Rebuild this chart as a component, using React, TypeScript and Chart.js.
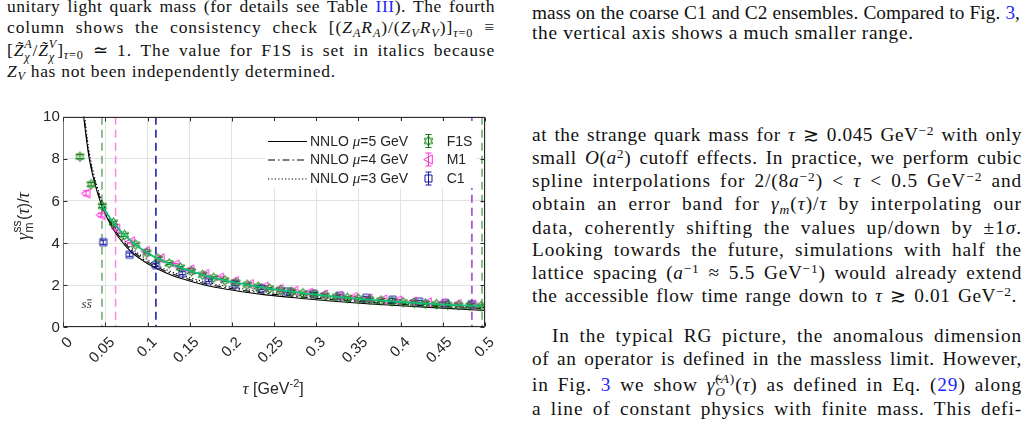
import React, { useEffect, useLayoutEffect, useRef } from "react";
import { Chart, registerables } from "chart.js";
Chart.register(...registerables);

// ---------------- data ----------------
const xTickValues = [0, 0.05, 0.1, 0.15, 0.2, 0.25, 0.3, 0.35, 0.4, 0.45, 0.5];
const xTickLabels = ["0", "0.05", "0.1", "0.15", "0.2", "0.25", "0.3", "0.35", "0.4", "0.45", "0.5"];
const yTickValues = [0, 2, 4, 6, 8, 10];
const yTickLabels = ["0", "2", "4", "6", "8", "10"];

const f1sTau = [0.0198, 0.033, 0.0462, 0.0594, 0.0726, 0.0859, 0.0991, 0.1123, 0.1255, 0.1387, 0.1519, 0.1651, 0.1783, 0.1915, 0.2047, 0.218, 0.2312, 0.2444, 0.2576, 0.2708, 0.284, 0.2972, 0.3104, 0.3236, 0.3368, 0.3501, 0.3633, 0.3765, 0.3897, 0.4029, 0.4161, 0.4293, 0.4425, 0.4557, 0.4689, 0.4822, 0.4954];
const f1sVal = [8.1, 6.79, 5.76, 4.97, 4.38, 3.92, 3.54, 3.26, 3.03, 2.84, 2.66, 2.49, 2.35, 2.23, 2.12, 2.02, 1.93, 1.84, 1.76, 1.69, 1.62, 1.56, 1.5, 1.45, 1.4, 1.35, 1.31, 1.27, 1.23, 1.19, 1.16, 1.13, 1.1, 1.07, 1.05, 1.03, 1.01];
const f1sErr = [0.1, 0.08, 0.07, 0.06, 0.06, 0.05, 0.05, 0.05, 0.05, 0.05, 0.05, 0.05, 0.05, 0.05, 0.05, 0.05, 0.05, 0.05, 0.05, 0.05, 0.05, 0.05, 0.05, 0.05, 0.05, 0.05, 0.05, 0.05, 0.05, 0.05, 0.05, 0.05, 0.05, 0.05, 0.05, 0.05, 0.05];

const m1Tau = [0.027, 0.0446, 0.0622, 0.0798, 0.0974, 0.115, 0.1326, 0.1502, 0.1678, 0.1854, 0.203, 0.2206, 0.2382, 0.2558, 0.2734, 0.291, 0.3086, 0.3262, 0.3438, 0.3614, 0.379, 0.3966, 0.4142, 0.4318, 0.4494, 0.467, 0.4846];
const m1Val = [6.36, 5.33, 4.7, 4.08, 3.62, 3.27, 2.98, 2.74, 2.53, 2.35, 2.19, 2.05, 1.93, 1.82, 1.73, 1.64, 1.56, 1.49, 1.43, 1.37, 1.32, 1.27, 1.22, 1.18, 1.14, 1.1, 1.07];
const m1Err = [0.12, 0.09, 0.07, 0.06, 0.06, 0.06, 0.05, 0.05, 0.05, 0.05, 0.05, 0.05, 0.05, 0.05, 0.05, 0.05, 0.05, 0.05, 0.05, 0.05, 0.05, 0.05, 0.05, 0.05, 0.05, 0.05, 0.05];

const c1Tau = [0.0474, 0.0786, 0.1098, 0.141, 0.1722, 0.2034, 0.2346, 0.2658, 0.297, 0.3282, 0.3594, 0.3906, 0.4218, 0.453, 0.4842];
const c1Val = [4.04, 3.45, 2.95, 2.57, 2.24, 2.03, 1.85, 1.7, 1.59, 1.49, 1.4, 1.31, 1.22, 1.15, 1.09];
const c1Err = [0.1, 0.08, 0.07, 0.07, 0.06, 0.06, 0.06, 0.06, 0.06, 0.06, 0.06, 0.06, 0.06, 0.06, 0.06];

const nnloTau = [0.023, 0.03, 0.035, 0.04, 0.0458, 0.055, 0.065, 0.08, 0.095, 0.11, 0.13, 0.156, 0.18, 0.21, 0.24, 0.28, 0.32, 0.36, 0.4, 0.45, 0.5];
const nnloMu5 = [10.35, 8.2, 7.2, 6.45, 5.76, 4.95, 4.3, 3.6, 3.15, 2.8, 2.45, 2.13, 1.9, 1.7, 1.54, 1.38, 1.24, 1.12, 1.02, 0.91, 0.8];
const nnloMu4 = [10.5, 8.3, 7.3, 6.55, 5.85, 5.05, 4.4, 3.7, 3.23, 2.88, 2.53, 2.2, 1.97, 1.77, 1.61, 1.45, 1.31, 1.19, 1.09, 0.98, 0.87];
const nnloMu3 = [10.8, 8.5, 7.45, 6.7, 6.0, 5.17, 4.52, 3.8, 3.33, 2.96, 2.61, 2.28, 2.05, 1.84, 1.68, 1.52, 1.38, 1.26, 1.16, 1.05, 0.94];

// spline band through F1S between the cuts
const splineTau = [0.0458, 0.0594, 0.0726, 0.0859, 0.0991, 0.1123, 0.1255, 0.1387, 0.1519, 0.1651, 0.1783, 0.1915, 0.2047, 0.218, 0.2312, 0.2444, 0.2576, 0.2708, 0.284, 0.2972, 0.3104, 0.3236, 0.3368, 0.3501, 0.3633, 0.3765, 0.3897, 0.4029, 0.4161, 0.4293, 0.4425, 0.4557, 0.4689, 0.4822, 0.4965];
const splineVal = [5.78, 4.97, 4.38, 3.92, 3.54, 3.26, 3.03, 2.84, 2.66, 2.49, 2.35, 2.23, 2.12, 2.02, 1.93, 1.84, 1.76, 1.69, 1.62, 1.56, 1.5, 1.45, 1.4, 1.35, 1.31, 1.27, 1.23, 1.19, 1.16, 1.13, 1.1, 1.07, 1.05, 1.03, 1.01];

// fit-window cuts (tau)
const f1sCuts = [0.0458, 0.4965];
const m1Cuts = [0.062, 0.4848];
const c1Cuts = [0.1098, 0.4842];

const legendLines = ["5", "4", "3"];
const legendSeries = ["F1S", "M1", "C1"];

// --------------- styles ---------------
const F1S_COLOR = "#0a7a0a";
const M1_COLOR = "#ff2fd8";
const C1_COLOR = "#1414a8";
const SPLINE_COLOR = "#12bf74";
const SANS = '"Liberation Sans", Arial, sans-serif';
const SERIF = '"Liberation Serif", "Times New Roman", serif';
const LINK = "#2424ff";

function makeMarker(kind: string, color: string): HTMLCanvasElement {
  const c = document.createElement("canvas");
  const s = 13;
  c.width = s;
  c.height = s;
  const g = c.getContext("2d")!;
  g.strokeStyle = color;
  g.lineWidth = 1;
  const cx = s / 2, cy = s / 2;
  g.beginPath();
  if (kind === "hex") {
    const R = 4.9, r = R / Math.sqrt(3);
    for (let i = 0; i < 12; i++) {
      const a = -Math.PI / 2 + (i * Math.PI) / 6;
      const rr = i % 2 === 0 ? R : r;
      const px = cx + rr * Math.cos(a), py = cy + rr * Math.sin(a);
      if (i === 0) g.moveTo(px, py); else g.lineTo(px, py);
    }
    g.closePath();
    g.fillStyle = "rgba(0,110,0,0.12)";
    g.fill();
  } else if (kind === "tri") {
    g.moveTo(cx - 4.8, cy);
    g.lineTo(cx + 3.8, cy - 4.6);
    g.lineTo(cx + 3.8, cy + 4.6);
    g.closePath();
  } else {
    g.rect(cx - 3.5, cy - 3.5, 7, 7);
  }
  g.stroke();
  return c;
}

function ChartBox() {
  const ref = useRef<HTMLCanvasElement>(null);
  useEffect(() => {
    const canvas = ref.current!;
    const hexImg = makeMarker("hex", F1S_COLOR);
    const triImg = makeMarker("tri", M1_COLOR);
    const sqImg = makeMarker("sq", C1_COLOR);

    const pts = (xs: number[], ys: number[]) => xs.map((x, i) => ({ x, y: ys[i] }));

    const errSets = [
      { t: c1Tau, v: c1Val, e: c1Err, color: C1_COLOR },
      { t: m1Tau, v: m1Val, e: m1Err, color: M1_COLOR },
      { t: f1sTau, v: f1sVal, e: f1sErr, color: F1S_COLOR },
    ];

    const decor = {
      id: "decor",
      beforeDatasetsDraw(chart: any) {
        const { ctx, chartArea: a, scales } = chart;
        const xs = scales.x, ys = scales.y;
        ctx.save();
        ctx.beginPath();
        ctx.rect(a.left, a.top, a.right - a.left, a.bottom - a.top);
        ctx.clip();
        const cuts = [
          { c: f1sCuts, colors: ["rgba(40,130,40,0.7)", "rgba(40,130,40,0.7)"] },
          { c: m1Cuts, colors: ["rgba(255,110,225,0.85)", "rgba(255,110,225,0.85)"] },
          { c: c1Cuts, colors: ["#1010a0", "rgba(30,30,170,0.5)"] },
        ];
        ctx.lineWidth = 1.5;
        ctx.setLineDash([8, 5]);
        cuts.forEach((cs) => {
          cs.c.forEach((t, k) => {
            ctx.strokeStyle = cs.colors[k];
            const px = xs.getPixelForValue(t);
            ctx.beginPath();
            ctx.moveTo(px, a.top);
            ctx.lineTo(px, a.bottom);
            ctx.stroke();
          });
        });
        ctx.restore();
        ctx.save();
        ctx.setLineDash([]);
        ctx.lineWidth = 1;
        errSets.forEach((s) => {
          ctx.strokeStyle = s.color;
          s.t.forEach((t, i) => {
            const px = xs.getPixelForValue(t);
            const y1 = ys.getPixelForValue(s.v[i] + s.e[i]);
            const y2 = ys.getPixelForValue(s.v[i] - s.e[i]);
            ctx.beginPath();
            ctx.moveTo(px, y1);
            ctx.lineTo(px, y2);
            ctx.moveTo(px - 3, y1);
            ctx.lineTo(px + 3, y1);
            ctx.moveTo(px - 3, y2);
            ctx.lineTo(px + 3, y2);
            ctx.stroke();
          });
        });
        ctx.restore();
      },
      afterDraw(chart: any) {
        const { ctx, chartArea: a, scales } = chart;
        const xs = scales.x, ys = scales.y;
        const L = Math.round(a.left) + 0.5, R = Math.round(a.right) - 0.5;
        const T = Math.round(a.top) + 0.5, B = Math.round(a.bottom) - 0.5;
        ctx.save();
        ctx.setLineDash([]);
        ctx.lineWidth = 1;
        ctx.strokeStyle = "#2b2b2b";
        ctx.beginPath();
        ctx.moveTo(L, B); ctx.lineTo(R, B); ctx.lineTo(R, T); ctx.lineTo(L, T);
        ctx.stroke();
        ctx.strokeStyle = "#7a7a7a";
        ctx.beginPath();
        ctx.moveTo(L, T); ctx.lineTo(L, B);
        ctx.stroke();
        ctx.strokeStyle = "#2b2b2b";
        ctx.beginPath();
        xTickValues.forEach((v) => {
          const px = Math.round(xs.getPixelForValue(v)) + 0.5;
          ctx.moveTo(px, B); ctx.lineTo(px, B - 4);
          ctx.moveTo(px, T); ctx.lineTo(px, T + 4);
        });
        yTickValues.forEach((v) => {
          const py = Math.round(ys.getPixelForValue(v)) + 0.5;
          ctx.moveTo(L, py); ctx.lineTo(L + 4, py);
          ctx.moveTo(R, py); ctx.lineTo(R - 4, py);
        });
        ctx.stroke();
        ctx.fillStyle = "#262626";
        ctx.font = `15px ${SANS}`;
        ctx.textAlign = "right";
        ctx.textBaseline = "middle";
        yTickValues.forEach((v, i) => {
          ctx.fillText(yTickLabels[i], a.left - 3.5, ys.getPixelForValue(v) + 0.5);
        });
        xTickValues.forEach((v, i) => {
          const px = xs.getPixelForValue(v);
          ctx.save();
          ctx.translate(px + 7, a.bottom + 12.7);
          ctx.rotate(-Math.PI / 4);
          ctx.fillText(xTickLabels[i], 0, 0);
          ctx.restore();
        });
        ctx.textBaseline = "alphabetic";
        ctx.textAlign = "left";
        {
          const parts = [
            { t: "\u03c4", f: `italic 17px ${SERIF}`, dy: 0 },
            { t: " [GeV", f: `16px ${SANS}`, dy: 0 },
            { t: "-2", f: `11px ${SANS}`, dy: -7 },
            { t: "]", f: `16px ${SANS}`, dy: 0 },
          ];
          let w = 0;
          parts.forEach((p) => { ctx.font = p.f; w += ctx.measureText(p.t).width; });
          let x = (a.left + a.right) / 2 - w / 2 - 1;
          const base = a.bottom + 67;
          parts.forEach((p) => {
            ctx.font = p.f;
            ctx.fillText(p.t, x, base + p.dy);
            x += ctx.measureText(p.t).width;
          });
        }
        {
          ctx.save();
          ctx.translate(29, 116);
          ctx.rotate(-Math.PI / 2);
          const gF = `italic 18px ${SERIF}`;
          const sF = `12px ${SANS}`;
          const nF = `16px ${SANS}`;
          ctx.font = gF; const wg = ctx.measureText("\u03b3").width;
          ctx.font = sF; const wss = ctx.measureText("ss").width; const wm = ctx.measureText("m").width;
          const ws = Math.max(wss, wm) + 1;
          ctx.font = nF; const wp = ctx.measureText("(").width; const wpc = ctx.measureText(")/").width;
          ctx.font = gF; const wt = ctx.measureText("\u03c4").width;
          const total = wg + ws + wp + wt + wpc + wt;
          let x = -total / 2;
          ctx.font = gF; ctx.fillText("\u03b3", x, 0); x += wg;
          ctx.font = sF; ctx.fillText("ss", x + 0.5, -8); ctx.fillText("m", x + 0.5, 4); x += ws;
          ctx.font = nF; ctx.fillText("(", x, 0); x += wp;
          ctx.font = gF; ctx.fillText("\u03c4", x, 0); x += wt;
          ctx.font = nF; ctx.fillText(")/", x, 0); x += wpc;
          ctx.font = gF; ctx.fillText("\u03c4", x, 0);
          ctx.restore();
        }
        {
          ctx.font = `italic 13px ${SERIF}`;
          ctx.fillStyle = "#333";
          const cx = xs.getPixelForValue(0.0277), cy = ys.getPixelForValue(0.9);
          const w1 = ctx.measureText("s").width;
          ctx.fillText("ss", cx - w1, cy);
          ctx.strokeStyle = "#333";
          ctx.beginPath();
          ctx.moveTo(cx + 0.5, cy - 8.5);
          ctx.lineTo(cx + w1, cy - 8.5);
          ctx.stroke();
        }
        {
          ctx.fillStyle = "#ffffff";
          ctx.fillRect(265, 21, 211, 67);
          const rows = [41, 59.5, 78.5];
          const dashes = [[], [7, 3, 1.5, 3], [1.2, 2.2]];
          const imgs = [hexImg, triImg, sqImg];
          const cols = [F1S_COLOR, M1_COLOR, C1_COLOR];
          rows.forEach((y, i) => {
            ctx.strokeStyle = "#000";
            ctx.lineWidth = 1.1;
            ctx.setLineDash(dashes[i]);
            ctx.beginPath();
            ctx.moveTo(268, y + 0.5);
            ctx.lineTo(307, y + 0.5);
            ctx.stroke();
            ctx.setLineDash([]);
            ctx.fillStyle = "#262626";
            ctx.textBaseline = "middle";
            let x = 310;
            ctx.font = `14px ${SANS}`;
            ctx.fillText("NNLO ", x, y + 1); x += ctx.measureText("NNLO ").width;
            ctx.font = `italic 15px ${SERIF}`;
            ctx.fillText("\u03bc", x, y + 1); x += ctx.measureText("\u03bc").width;
            ctx.font = `14px ${SANS}`;
            ctx.fillText(`=${legendLines[i]} GeV`, x, y + 1);
            const mx = 428.5;
            ctx.strokeStyle = cols[i];
            ctx.lineWidth = 1;
            ctx.beginPath();
            ctx.moveTo(mx, y - 6.5); ctx.lineTo(mx, y + 6.5);
            ctx.moveTo(mx - 3, y - 6.5); ctx.lineTo(mx + 3, y - 6.5);
            ctx.moveTo(mx - 3, y + 6.5); ctx.lineTo(mx + 3, y + 6.5);
            ctx.stroke();
            ctx.drawImage(imgs[i], mx - imgs[i].width / 2, y - imgs[i].height / 2);
            ctx.font = `14px ${SANS}`;
            ctx.fillStyle = "#262626";
            ctx.fillText(legendSeries[i], 446.7, y + 1);
          });
          ctx.textBaseline = "alphabetic";
        }
        ctx.restore();
      },
    };

    const chart = new Chart(canvas, {
      type: "line",
      data: {
        datasets: [
          { label: "spline", data: pts(splineTau, splineVal), borderColor: SPLINE_COLOR, borderWidth: 1.8, pointRadius: 0, cubicInterpolationMode: "monotone", fill: false, order: 1 } as any,
          { label: "F1S", data: pts(f1sTau, f1sVal), showLine: false, pointStyle: hexImg, pointRadius: 5, order: 2 },
          { label: "M1", data: pts(m1Tau, m1Val), showLine: false, pointStyle: triImg, pointRadius: 5, order: 3 },
          { label: "C1", data: pts(c1Tau, c1Val), showLine: false, pointStyle: sqImg, pointRadius: 5, order: 4 },
          { label: "mu5", data: pts(nnloTau, nnloMu5), borderColor: "#000", borderWidth: 1.1, pointRadius: 0, cubicInterpolationMode: "monotone", fill: false, order: 5 },
          { label: "mu4", data: pts(nnloTau, nnloMu4), borderColor: "#000", borderWidth: 1.1, borderDash: [7, 3, 1.5, 3], pointRadius: 0, cubicInterpolationMode: "monotone", fill: false, order: 6 },
          { label: "mu3", data: pts(nnloTau, nnloMu3), borderColor: "#000", borderWidth: 1.1, borderDash: [1.2, 2.2], pointRadius: 0, cubicInterpolationMode: "monotone", fill: false, order: 7 },
        ] as any,
      },
      options: {
        animation: false,
        responsive: false,
        devicePixelRatio: 1,
        events: [],
        layout: { padding: { left: 0, top: 16.7, right: 35, bottom: 0 } },
        plugins: { legend: { display: false }, tooltip: { enabled: false } },
        scales: {
          x: {
            type: "linear", min: 0, max: 0.5,
            ticks: { display: false, stepSize: 0.05 },
            grid: { color: "#e2e2e2", drawTicks: false, lineWidth: 1 },
            border: { display: false },
            afterFit: (s: any) => { s.height = 72.7; },
          },
          y: {
            type: "linear", min: 0, max: 10,
            ticks: { display: false, stepSize: 2 },
            grid: { color: "#e2e2e2", drawTicks: false, lineWidth: 1 },
            border: { display: false },
            afterFit: (s: any) => { s.width = 63.3; },
          },
        },
      } as any,
      plugins: [decor],
    });
    return () => chart.destroy();
  }, []);
  return <canvas ref={ref} width={520} height={300} style={{ position: "absolute", left: 0, top: 100, width: 520, height: 300 }} />;
}

// --------------- text helpers ---------------
const Sup = ({ children }: any) => (
  <span style={{ position: "relative", top: "-0.45em", fontSize: "0.7em", lineHeight: 0 }}>{children}</span>
);
const Sub = ({ children }: any) => (
  <span style={{ position: "relative", top: "0.3em", fontSize: "0.7em", lineHeight: 0 }}>{children}</span>
);
const Stack = ({ sup, sub }: any) => (
  <span style={{ fontSize: "0.7em", lineHeight: 0, whiteSpace: "nowrap" }}>
    <span style={{ display: "inline-block", width: 0, position: "relative", top: "0.4em" }}>{sub}</span>
    <span style={{ position: "relative", top: "-0.6em" }}>{sup}</span>
  </span>
);
const I = ({ children }: any) => <span style={{ fontStyle: "italic" }}>{children}</span>;
const B = ({ children }: any) => <span style={{ color: LINK }}>{children}</span>;

// one typeset line; when justified, letter and word spacing are set so it spans `width`
function Ln({ top, left, width, size, j = true, children }: any) {
  const ref = useRef<HTMLSpanElement>(null);
  useLayoutEffect(() => {
    const el = ref.current;
    if (!el) return;
    const text = el.textContent || "";
    const chars = text.length;
    if (!j) {
      el.style.letterSpacing = "0.7px";
      return;
    }
    el.style.letterSpacing = "0px";
    el.style.wordSpacing = "0px";
    const nat0 = el.getBoundingClientRect().width;
    const slack = width - nat0;
    const ls = slack > 0 ? Math.min(1.0, (0.6 * slack) / chars) : slack / chars;
    el.style.letterSpacing = `${ls}px`;
    const nat1 = el.getBoundingClientRect().width;
    const n = (text.match(/ /g) || []).length;
    if (n > 0) el.style.wordSpacing = `${(width - nat1) / n}px`;
  }, []);
  return (
    <div
      style={{
        position: "absolute", top, left, width, fontSize: size, lineHeight: `${size + 4}px`, height: size + 4,
        fontFamily: SERIF, color: "#111", whiteSpace: "nowrap",
      }}
    >
      <span ref={ref} style={{ display: "inline-block", whiteSpace: "nowrap" }}>{children}</span>
    </div>
  );
}

export default function App() {
  const LS = 17.5;
  const RS = 19.3;
  return (
    <div style={{ position: "fixed", left: 0, top: 0, width: 1029, height: 426, background: "#fff", overflow: "hidden" }}>
      <Ln top={-3.7} left={7} width={488} size={LS}>unitary light quark mass (for details see Table <B>III</B>). The fourth</Ln>
      <Ln top={17.3} left={7} width={488} size={LS}>
        column shows the consistency check [(<I>Z</I><Sub><I>A</I></Sub><I>R</I><Sub><I>A</I></Sub>)/(<I>Z</I><Sub><I>V</I></Sub><I>R</I><Sub><I>V</I></Sub>)]<Sub><I>{"\u03c4"}</I>=0</Sub> {"\u2261"}
      </Ln>
      <Ln top={39.7} left={7} width={488} size={LS}>
        [<I>{"Z\u0303"}</I><Stack sup={<I>A</I>} sub={<I>{"\u03c7"}</I>} />/<I>{"Z\u0303"}</I><Stack sup={<I>V</I>} sub={<I>{"\u03c7"}</I>} />]<Sub><I>{"\u03c4"}</I>=0</Sub> {"\u2243"} 1. The value for F1S is set in italics because
      </Ln>
      <Ln top={60.7} left={7} width={488} size={LS} j={false}>
        <I>Z</I><Sub><I>V</I></Sub> has not been independently determined.
      </Ln>

      <Ln top={0.7} left={532} width={488} size={RS}>mass on the coarse C1 and C2 ensembles. Compared to Fig. <B>3</B>,</Ln>
      <Ln top={21.3} left={532} width={490} size={RS} j={false}>the vertical axis shows a much smaller range.</Ln>

      <Ln top={123} left={532} width={490} size={RS}>
        at the strange quark mass for <I>{"\u03c4"}</I> {"\u2273"} 0.045 GeV<Sup>{"\u22122"}</Sup> with only
      </Ln>
      <Ln top={146.3} left={532} width={490} size={RS}>
        small <I>O</I>(<I>a</I><Sup>2</Sup>) cutoff effects. In practice, we perform cubic
      </Ln>
      <Ln top={169} left={532} width={490} size={RS}>
        spline interpolations for 2/(8<I>a</I><Sup>{"\u22122"}</Sup>) &lt; <I>{"\u03c4"}</I> &lt; 0.5 GeV<Sup>{"\u22122"}</Sup> and
      </Ln>
      <Ln top={192.3} left={532} width={490} size={RS}>
        obtain an error band for <I>{"\u03b3"}</I><Sub><I>m</I></Sub>(<I>{"\u03c4"}</I>)/<I>{"\u03c4"}</I> by interpolating our
      </Ln>
      <Ln top={215.7} left={532} width={490} size={RS}>
        data, coherently shifting the values up/down by {"\u00b1"}1<I>{"\u03c3"}</I>.
      </Ln>
      <Ln top={238} left={532} width={490} size={RS}>Looking towards the future, simulations with half the</Ln>
      <Ln top={260.7} left={532} width={490} size={RS}>
        lattice spacing (<I>a</I><Sup>{"\u22121"}</Sup> {"\u2248"} 5.5 GeV<Sup>{"\u22121"}</Sup>) would already extend
      </Ln>
      <Ln top={284} left={532} width={485} size={RS}>
        the accessible flow time range down to <I>{"\u03c4"}</I> {"\u2273"} 0.01 GeV<Sup>{"\u22122"}</Sup>.
      </Ln>
      <Ln top={324} left={552} width={470} size={RS}>In the typical RG picture, the anomalous dimension</Ln>
      <Ln top={347.3} left={532} width={490} size={RS}>of an operator is defined in the massless limit. However,</Ln>
      <Ln top={373} left={532} width={490} size={RS}>
        in Fig. <B>3</B> we show <I>{"\u03b3\u0303"}</I><Stack sup={<>(<I>A</I>)</>} sub={<I>O</I>} />(<I>{"\u03c4"}</I>) as defined in Eq. (<B>29</B>) along
      </Ln>
      <Ln top={397.3} left={532} width={490} size={RS}>a line of constant physics with finite mass. This defi-</Ln>

      <ChartBox />
    </div>
  );
}
